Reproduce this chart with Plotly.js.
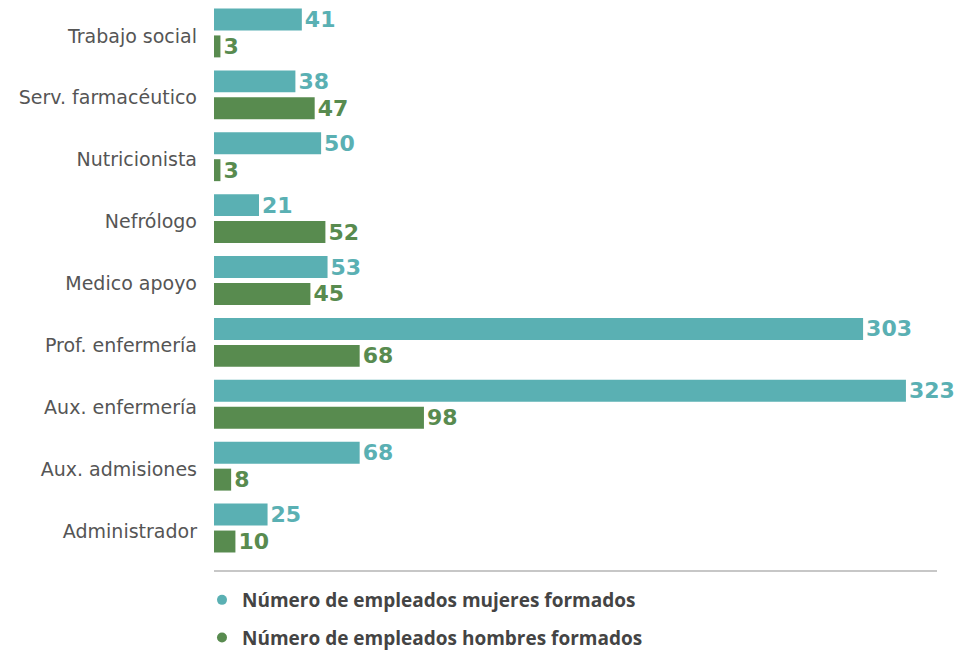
<!DOCTYPE html>
<html>
<head>
<meta charset="utf-8">
<script src="https://cdn.plot.ly/plotly-3.0.1.min.js"></script>
<style>html,body{margin:0;padding:0;background:#fff;}#chart{width:975px;height:650px;}</style>
</head>
<body>
<div id="chart"></div>
<script>
const categories = ["Trabajo social","Serv. farmacéutico","Nutricionista","Nefrólogo","Medico apoyo","Prof. enfermería","Aux. enfermería","Aux. admisiones","Administrador"];
const mujeres = [41,38,50,21,53,303,323,68,25];
const hombres = [3,47,3,52,45,68,98,8,10];
const seriesNames = ["Número de empleados mujeres formados","Número de empleados hombres formados"];
const colors = ["#5AB0B3","#588B4F"];

const labelFont = {family:"DejaVu Sans", size:22, weight:"bold"};
function barTrace(vals, i){
  return {
    type:"bar", orientation:"h", y:categories, x:vals, name:seriesNames[i],
    marker:{color:colors[i]}, text:vals.map(String), textposition:"outside",
    constraintext:"none",
    textfont:Object.assign({color:colors[i]}, labelFont), cliponaxis:false,
    showlegend:false, hoverinfo:"x+y"
  };
}
function legendTrace(i){
  return {type:"scatter", mode:"markers", x:[null], y:[null], name:seriesNames[i],
    legendgroup:"g"+i,
    marker:{color:colors[i], size:10, symbol:"circle"}, showlegend:true};
}
const data = [barTrace(mujeres,0), barTrace(hombres,1), legendTrace(0), legendTrace(1)];
const layout = {
  width:975, height:650,
  margin:{l:214, r:38, t:2, b:91, autoexpand:false},
  paper_bgcolor:"#fff", plot_bgcolor:"#fff",
  barmode:"group", bargap:0.13, bargroupgap:0.185,
  xaxis:{range:[0,337.5], visible:false, fixedrange:true},
  yaxis:{type:"category", autorange:"reversed", showgrid:false, zeroline:false, showline:false,
    ticks:"", ticklabelstandoff:16, ticklabelshift:-3,
    tickfont:{family:"DejaVu Sans", size:19, color:"#555"}},
  showlegend:true,
  legend:{orientation:"v", x:-0.0166, xanchor:"left", y:-0.0395, yanchor:"top", tracegroupgap:10,
    font:{family:"Open Sans", size:19, weight:"bold", color:"#444"}, itemwidth:30},
  shapes:[{type:"line", xref:"paper", yref:"paper", x0:0, x1:1, y0:-0.0215, y1:-0.0215,
    line:{color:"#b5b5b5", width:1.5}}]
};
Plotly.newPlot("chart", data, layout, {displayModeBar:false, staticPlot:true});
</script>
</body>
</html>
